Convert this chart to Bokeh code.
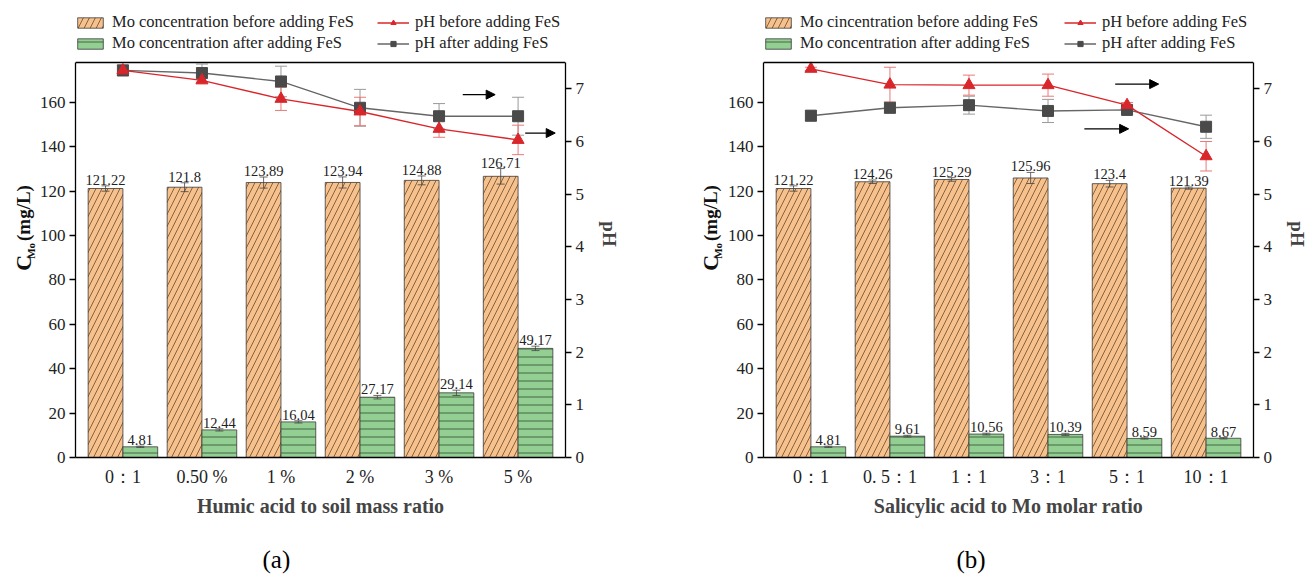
import numpy as np
from bokeh.plotting import figure
from bokeh.models import (Range1d, LinearAxis, FixedTicker, Whisker, ColumnDataSource,
                          Legend, LegendItem, Title, Arrow, NormalHead, TeeHead, Span)
from bokeh.layouts import row
from bokeh.embed import file_html
from bokeh.resources import INLINE
from bokeh.core.properties import value

# ---- (a) humic acid to soil mass ratio ----
humic_labels = ["0：1", "0.50 %", "1 %", "2 %", "3 %", "5 %"]
humic_mo_before = [121.22, 121.8, 123.89, 123.94, 124.88, 126.71]
humic_mo_before_err = [1.2, 2.0, 2.5, 2.5, 2.0, 3.5]
humic_mo_after = [4.81, 12.44, 16.04, 27.17, 29.14, 49.17]
humic_mo_after_err = [0.3, 0.5, 0.5, 0.8, 1.2, 1.0]
humic_ph_before = [7.35, 7.16, 6.81, 6.57, 6.24, 6.03]
humic_ph_before_err = [0.1, 0.05, 0.22, 0.27, 0.16, 0.28]
humic_ph_after = [7.35, 7.30, 7.14, 6.64, 6.48, 6.48]
humic_ph_after_err = [0.1, 0.17, 0.29, 0.35, 0.24, 0.36]

# ---- (b) salicylic acid to Mo molar ratio ----
salicylic_labels = ["0：1", "0. 5：1", "1：1", "3：1", "5：1", "10：1"]
salicylic_mo_before = [121.22, 124.26, 125.29, 125.96, 123.4, 121.39]
salicylic_mo_before_err = [1.2, 0.8, 0.8, 2.5, 1.5, 0.5]
salicylic_mo_after = [4.81, 9.61, 10.56, 10.39, 8.59, 8.67]
salicylic_mo_after_err = [0.3, 0.4, 0.4, 0.5, 0.3, 0.3]
salicylic_ph_before = [7.38, 7.08, 7.07, 7.07, 6.69, 5.72]
salicylic_ph_before_err = [0.03, 0.33, 0.19, 0.21, 0.05, 0.28]
salicylic_ph_after = [6.49, 6.64, 6.69, 6.58, 6.60, 6.28]
salicylic_ph_after_err = [0.1, 0.1, 0.17, 0.22, 0.04, 0.22]

SERIF = "Liberation Serif"
ORANGE = "#F7C18D"
GREEN = "#93CF93"
RED = "#D9262B"
BAR_W = 0.44

MO_MAX, PH_MAX = 178.0, 7.5          # extent of the boxed plotting area
PLOT_H, FRAME_H = 395, 447           # boxed area height / full frame incl. legend strip
TOP, BOTTOM = 10, 124                # borders above / below the frame
FIG_H = TOP + FRAME_H + BOTTOM
SCALE = FRAME_H / PLOT_H


def whisker(p, x, y, err, color, head, width, level, y_range_name="default"):
    src = ColumnDataSource(dict(x=x, lo=np.array(y) - np.array(err), hi=np.array(y) + np.array(err)))
    w = Whisker(base="x", lower="lo", upper="hi", source=src, line_color=color, line_width=width,
                lower_head=TeeHead(size=head, line_color=color, line_width=width),
                upper_head=TeeHead(size=head, line_color=color, line_width=width),
                level=level, y_range_name=y_range_name)
    p.add_layout(w)


def make_legend(items, x, y):
    lg = Legend(items=items, orientation="vertical", location=(x, y))
    lg.padding = 0
    lg.margin = 0
    lg.spacing = 1
    lg.label_height = 20
    lg.glyph_height = 13
    lg.glyph_width = 32
    lg.label_standoff = 6
    lg.label_text_font = SERIF
    lg.label_text_font_size = "16.5px"
    lg.label_text_color = "#222222"
    lg.border_line_color = None
    lg.background_fill_alpha = 0
    return lg


def y_title_strip(width, cx):
    """Narrow strip carrying the rotated left-axis title C_Mo (mg/L)."""
    s = figure(width=width, height=FIG_H, output_backend="svg", toolbar_location=None,
               x_range=Range1d(0, width), y_range=Range1d(0, FIG_H),
               x_axis_location=None, y_axis_location=None, min_border=0,
               outline_line_color=None, background_fill_color="white",
               border_fill_color="white")
    s.xgrid.visible = False
    s.ygrid.visible = False
    style = dict(angle=np.pi / 2, text_font=value(SERIF), text_font_style="bold",
                 text_color="#111111", text_baseline="middle", text_align="left")
    base = 231
    s.text(x=[cx], y=[base], text=["C"], text_font_size="22px", **style)
    s.text(x=[cx + 7], y=[base + 16], text=["Mo"], text_font_size="11px", **style)
    s.text(x=[cx], y=[base + 40], text=["(mg/L)"], text_font_size="19px", **style)
    return s


def make_panel(labels, before, before_err, after, after_err, ph_b, ph_b_err, ph_a, ph_a_err,
               legend_before, xtitle, tag, tag_offset, arrows, legend2_x, border_right):
    p = figure(frame_width=490, frame_height=FRAME_H, output_backend="svg", toolbar_location=None,
               x_range=Range1d(-0.6, 5.6), y_range=Range1d(0, MO_MAX * SCALE),
               min_border_left=39, min_border_right=border_right,
               min_border_top=TOP, min_border_bottom=BOTTOM,
               background_fill_color="white", border_fill_color="white")
    p.extra_y_ranges = {"ph": Range1d(0, PH_MAX * SCALE)}
    p.xgrid.visible = False
    p.ygrid.visible = False
    p.outline_line_color = None

    # top edge of the boxed area
    p.add_layout(Span(location=MO_MAX, dimension="width", line_color="black", line_width=1.3))

    xs = np.arange(len(labels))
    xb = xs - BAR_W / 2
    xa = xs + BAR_W / 2

    r_before = p.vbar(x=xb, top=before, width=BAR_W, bottom=0, fill_color=ORANGE,
                      line_color="#3a3a3a", line_width=0.8, hatch_pattern="/",
                      hatch_color="#6a4a2a", hatch_scale=12, hatch_weight=0.8)
    r_after = p.vbar(x=xa, top=after, width=BAR_W, bottom=0, fill_color=GREEN,
                     line_color="#3a3a3a", line_width=0.8, hatch_pattern="-",
                     hatch_color="#2f4a2f", hatch_scale=8, hatch_weight=0.8)
    whisker(p, xb, before, before_err, "#444444", 8, 0.8, "annotation")
    whisker(p, xa, after, after_err, "#444444", 8, 0.8, "annotation")

    for xx, vals, errs in ((xb, before, before_err), (xa, after, after_err)):
        p.text(x=xx, y=np.array(vals) + np.array(errs), text=[f"{v:g}" for v in vals],
               text_align="center", text_baseline="bottom", y_offset=-1,
               text_font=value(SERIF), text_font_size="14.5px", text_color="#222222")

    # pH series on the secondary axis
    whisker(p, xs, ph_a, ph_a_err, "#9a9a9a", 12, 1.0, "underlay", "ph")
    whisker(p, xs, ph_b, ph_b_err, "#E77A7A", 12, 1.0, "underlay", "ph")
    l_a = p.line(xs, ph_a, y_range_name="ph", line_color="#666666", line_width=1.4)
    s_a = p.scatter(xs, ph_a, y_range_name="ph", marker="square", size=11,
                    fill_color="#4a4a4a", line_color="#4a4a4a")
    l_b = p.line(xs, ph_b, y_range_name="ph", line_color=RED, line_width=1.4)
    s_b = p.scatter(xs, ph_b, y_range_name="ph", marker="triangle", size=12,
                    fill_color=RED, line_color=RED)

    for (x0, x1, yv) in arrows:
        p.add_layout(Arrow(x_start=x0, x_end=x1, y_start=yv, y_end=yv, y_range_name="ph",
                           line_color="black", line_width=1.2,
                           end=NormalHead(size=9, fill_color="black", line_color="black")))

    # axes
    p.yaxis.ticker = FixedTicker(ticks=list(range(0, 161, 20)))
    p.yaxis.bounds = (0, MO_MAX)
    ax_r = LinearAxis(y_range_name="ph", ticker=FixedTicker(ticks=list(range(0, 8))),
                      axis_label="pH", bounds=(0, PH_MAX))
    p.add_layout(ax_r, "right")
    for ax in (p.yaxis[0], ax_r):
        ax.major_tick_out = 6
        ax.major_tick_in = 0
        ax.minor_tick_line_color = None
        ax.axis_line_width = 1.3
        ax.major_tick_line_width = 1.3
        ax.major_label_text_font = SERIF
        ax.major_label_text_font_size = "17px"
        ax.major_label_text_color = "#222222"
        ax.major_label_standoff = 4
    ax_r.axis_label_text_font = SERIF
    ax_r.axis_label_text_font_style = "bold"
    ax_r.axis_label_text_font_size = "19px"
    ax_r.axis_label_standoff = 12

    xax = p.xaxis[0]
    xax.ticker = FixedTicker(ticks=list(xs))
    xax.major_label_overrides = {int(i): lab for i, lab in zip(xs, labels)}
    xax.major_tick_out = 0
    xax.major_tick_in = 0
    xax.minor_tick_line_color = None
    xax.axis_line_width = 1.3
    xax.major_label_text_font = SERIF
    xax.major_label_text_font_size = "18px"
    xax.major_label_text_color = "#222222"
    xax.major_label_standoff = 9
    xax.axis_label = xtitle
    xax.axis_label_text_font = SERIF
    xax.axis_label_text_font_style = "bold"
    xax.axis_label_text_font_size = "20px"
    xax.axis_label_standoff = 5

    # panel tag under the axis title
    p.add_layout(Title(text=tag, align="left", offset=tag_offset, standoff=48,
                       text_font=SERIF, text_font_size="25px", text_font_style="normal",
                       text_color="black"), "below")

    legend_y = FRAME_H - 43
    p.add_layout(make_legend([
        LegendItem(label=legend_before, renderers=[r_before]),
        LegendItem(label="Mo concentration after adding FeS", renderers=[r_after]),
    ], -1, legend_y))
    p.add_layout(make_legend([
        LegendItem(label="pH before adding FeS", renderers=[l_b, s_b]),
        LegendItem(label="pH after adding FeS", renderers=[l_a, s_a]),
    ], legend2_x, legend_y))
    return p


ya = y_title_strip(36, 23)
pa = make_panel(humic_labels, humic_mo_before, humic_mo_before_err, humic_mo_after,
                humic_mo_after_err, humic_ph_before, humic_ph_before_err, humic_ph_after,
                humic_ph_after_err, "Mo concentration before adding FeS",
                "Humic acid to soil mass ratio", "(a)", 187,
                [(4.3, 4.71, 6.89), (5.09, 5.47, 6.16)], 302, 85)
yb = y_title_strip(74, 60)
pb = make_panel(salicylic_labels, salicylic_mo_before, salicylic_mo_before_err,
                salicylic_mo_after, salicylic_mo_after_err, salicylic_ph_before,
                salicylic_ph_before_err, salicylic_ph_after, salicylic_ph_after_err,
                "Mo cincentration before adding FeS", "Salicylic acid to Mo molar ratio",
                "(b)", 193, [(3.85, 4.4, 7.09), (3.46, 4.02, 6.24)], 301, 60)

layout = row(ya, pa, yb, pb)
open("out.html", "w").write(file_html(layout, INLINE))
